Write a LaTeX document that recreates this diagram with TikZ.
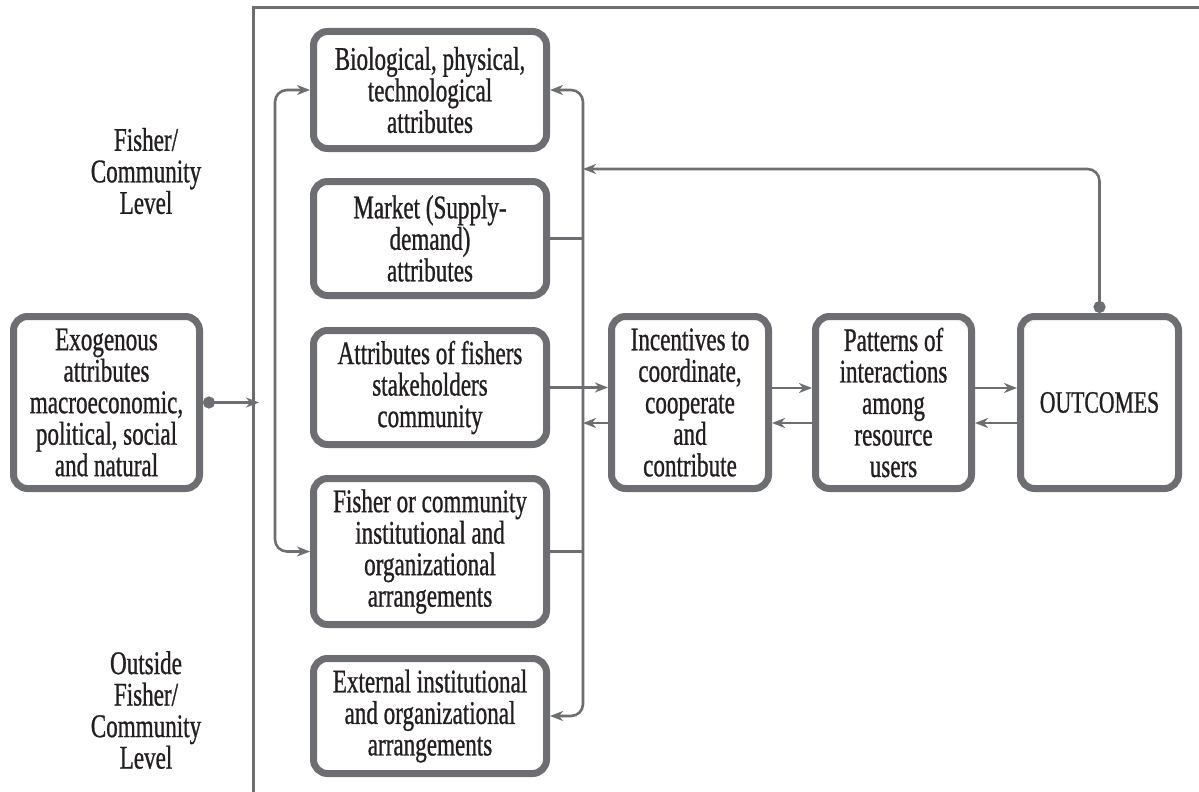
\documentclass[tikz,border=0pt]{standalone}
\usepackage{fontspec}
\setmainfont{Liberation Serif}[FakeStretch=0.70, FakeBold=0.8]
\usetikzlibrary{arrows.meta}
\definecolor{linegray}{RGB}{109,110,113}
\definecolor{ink}{RGB}{35,31,32}

\begin{document}
\begin{tikzpicture}[x=1pt,y=-1pt,
  txt/.style={text=ink, align=center, font=\fontsize{33}{31.5}\selectfont},
  box/.style={txt, draw=linegray, line width=7pt, rounded corners=14pt,
    fill=white, inner sep=0pt},
  colbox/.style={box, minimum width=233pt},
  midbox/.style={box, minimum height=172pt},
  lbl/.style={txt},
  conn/.style={draw=linegray, line width=2.6pt},
  frameline/.style={draw=linegray, line width=3pt},
  tip/.style={-{Stealth[length=13pt,width=10pt,inset=4pt]}},
  tipboth/.style={{Stealth[length=13pt,width=10pt,inset=4pt]}-{Stealth[length=13pt,width=10pt,inset=4pt]}},
  dottip/.style={{Circle[length=12pt]}-{Stealth[length=13pt,width=10pt,inset=4pt]}},
]
\useasboundingbox[fill=white] (0,0) rectangle (1199,792);

% outer frame of the fisher/community system
\draw[frameline] (253,792) -- (253,7.5) -- (1199,7.5);

% level labels
\node[lbl] (lvlin) at (146,171) {Fisher/\\Community\\Level};
\node[lbl] (lvlout) at (146,710) {Outside\\Fisher/\\Community\\Level};

% column of attribute boxes
\node[colbox, minimum height=117pt] (bio) at (430,90) {Biological, physical,\\technological\\attributes};
\node[colbox, minimum height=114pt] (mkt) at (430,238.5) {Market (Supply-\\demand)\\attributes};
\node[colbox, minimum height=114pt] (att) at (430,387.5) {Attributes of fishers\\stakeholders\\community};
\node[colbox, minimum height=146pt] (fco) at (430,551.5) {Fisher or community\\institutional and\\organizational\\arrangements};
\node[colbox, minimum height=115pt] (ext) at (430,716) {External institutional\\and organizational\\arrangements};

% middle row
\node[midbox, minimum width=186pt] (exo) at (106.5,402.5) {Exogenous\\attributes\\macroeconomic,\\political, social\\and natural};
\node[midbox, minimum width=157pt] (inc) at (690,402.5) {Incentives to\\coordinate,\\cooperate\\and\\contribute};
\node[midbox, minimum width=156pt] (pat) at (893.5,402.5) {Patterns of\\interactions\\among\\resource\\users};
\node[midbox, minimum width=158pt, font=\fontsize{31}{31.5}\selectfont] (out) at (1099.5,402.5) {OUTCOMES};

% helper points
\coordinate (exoin) at (259,402.5);
\coordinate (rb) at (583,0);
\coordinate (fb) at (583,169);

% exogenous input into the frame
\draw[conn, dottip] (exo.east) -- (exoin);

% left bracket
\draw[conn, tipboth, rounded corners=12pt] (bio.west) -- ++(-35,0) |- (fco.west);
% right bracket
\draw[conn, tipboth, rounded corners=12pt] (bio.east) -- ++(33,0) |- (ext.east);
\draw[conn] (mkt.east) -- (mkt.east -| rb);
\draw[conn] (fco.east) -- (fco.east -| rb);

% flows along the middle row
\draw[conn, tip] (att.east) -- (att.east -| inc.west);
\draw[conn, tip] ([yshift=-20.5pt]inc.west) -- ([yshift=-20.5pt]inc.west -| rb);
\draw[conn, tip] ([yshift=14.5pt]inc.east) -- ([yshift=14.5pt]inc.east -| pat.west);
\draw[conn, tip] ([yshift=-20.5pt]pat.west) -- ([yshift=-20.5pt]pat.west -| inc.east);
\draw[conn, tip] ([yshift=14.5pt]pat.east) -- ([yshift=14.5pt]pat.east -| out.west);
\draw[conn, tip] ([yshift=-20.5pt]out.west) -- ([yshift=-20.5pt]out.west -| pat.east);

% feedback from outcomes
\draw[conn, dottip, rounded corners=12pt] (out.north) |- (fb);
\end{tikzpicture}
\end{document}
